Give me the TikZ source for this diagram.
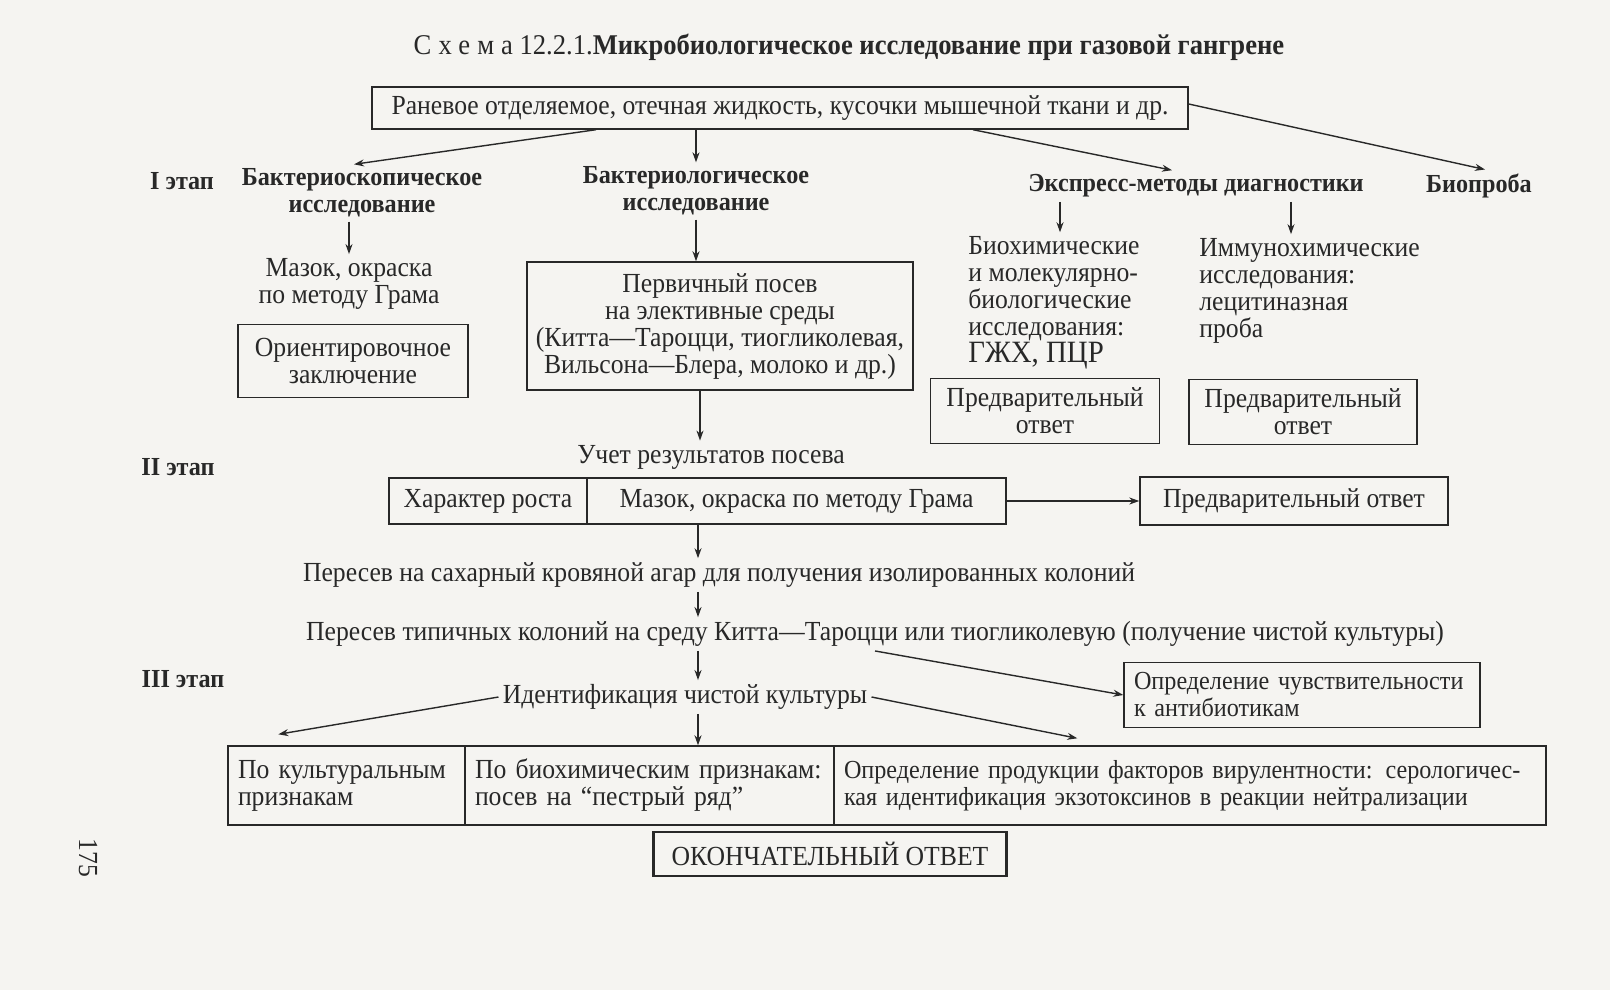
\documentclass[tikz,border=0pt]{standalone}
\usepackage{fontspec}
\setmainfont{Liberation Serif}[FakeStretch=0.93]
\usetikzlibrary{arrows.meta}
\definecolor{paper}{RGB}{245,244,241}
\definecolor{ink}{RGB}{40,40,40}

\begin{document}
\begin{tikzpicture}[
    x=0.5pt, y=-0.5pt,
    every node/.style={font=\fontsize{13.8}{13.5}\selectfont, text=ink, inner sep=2pt},
    box/.style={draw=ink, line width=0.7pt, align=center, inner sep=0pt},
    cell/.style={draw=ink, line width=0.7pt, align=left, inner xsep=5pt, inner ysep=0pt, minimum height=39.5pt},
    head/.style={font=\fontsize{13}{13.5}\selectfont\bfseries, align=center},
    stage/.style={font=\fontsize{13}{13.5}\selectfont\bfseries},
    arr/.style={draw=ink, line width=0.7pt, -{Stealth[length=5pt,width=3.5pt]}}
]
    % Лист
    \fill[paper] (0,0) rectangle (1610,990);
    \useasboundingbox (0,0) rectangle (1610,990);

    % Заголовок и материал
    \node[font=\fontsize{14.3}{16}\selectfont] (title) at (849,47) {{\addfontfeature{LetterSpace=25}Схема} 12.2.1.\textbf{Микробиологическое исследование при газовой гангрене}};
    \node[box, minimum width=408pt, minimum height=21pt] (src) at (780,108) {Раневое отделяемое, отечная жидкость, кусочки мышечной ткани и др.};

    % I этап
    \node[stage] (st1) at (182,181) {I этап};
    \node[head] (bskop) at (362,193) {Бактериоскопическое\\исследование};
    \node[head] (bol) at (696,191) {Бактериологическое\\исследование};
    \node[head] (expr) at (1196,186) {Экспресс-методы диагностики};
    \node[head] (biop) at (1479,186) {Биопроба};

    \draw[arr] ([xshift=-92pt]src.south) -- ([xshift=-4pt]bskop.north);
    \draw[arr] (src.south -| bol.north) -- (bol.north);
    \draw[arr] ([xshift=96.5pt]src.south) -- ([xshift=-12pt]expr.north);
    \draw[arr] ([yshift=2pt]src.east) -- ([xshift=3pt]biop.north);

    \node[align=center] (mazok) at (349,284) {Мазок, окраска\\по методу Грама};
    \node[box, minimum width=115pt, minimum height=36.5pt] (orient) at (353,361) {Ориентировочное\\заключение};
    \draw[arr] (bskop.south -| mazok.north) -- (mazok.north);

    \node[box, minimum width=193pt, minimum height=64pt] (perv) at (720,326) {Первичный посев\\на элективные среды\\(Китта—Тароцци, тиогликолевая,\\Вильсона—Блера, молоко и др.)};
    \draw[arr] (bol.south) -- (bol.south |- perv.north);

    \node[align=left, anchor=west] (bhim) at (964,303) {Биохимические\\и молекулярно-\\биологические\\исследования:\\{\fontsize{15.5}{16}\selectfont ГЖХ, ПЦР}};
    \node[align=left, anchor=west] (imm) at (1195,291) {Иммунохимические\\исследования:\\лецитиназная\\проба};
    \coordinate (e1) at ([xshift=-68pt]expr.south);
    \coordinate (e2) at ([xshift=47.5pt]expr.south);
    \draw[arr] (e1) -- (e1 |- bhim.north);
    \draw[arr] (e2) -- (e2 |- imm.north);

    \node[box, minimum width=114.5pt, minimum height=32.5pt] (pr1) at (1045,411) {Предварительный\\ответ};
    \node[box, minimum width=114pt, minimum height=32.5pt] (pr2) at (1303,412) {Предварительный\\ответ};

    % II этап
    \coordinate (p1) at ([xshift=-10pt]perv.south);
    \node (ucet) at (711,457) {Учет результатов посева};
    \draw[arr] (p1) -- (p1 |- ucet.north);

    \node[stage] (st2) at (178,467) {II этап};
    \node[box, minimum width=99pt, minimum height=23pt] (kh) at (488,501) {Характер роста};
    \node[box, minimum width=209.5pt, minimum height=23pt] (mz) at (796.5,501) {Мазок, окраска по методу Грама};
    \node[box, minimum width=154pt, minimum height=24pt] (pr3) at (1294,501) {Предварительный ответ};
    \draw[arr] (mz.east) -- (pr3.west);

    \coordinate (spine) at (698,0);
    \node (per1) at (719,575) {Пересев на сахарный кровяной агар для получения изолированных колоний};
    \node (per2) at (875,634) {Пересев типичных колоний на среду Китта—Тароцци или тиогликолевую (получение чистой культуры)};
    \draw[arr] (mz.south -| spine) -- (per1.north -| spine);
    \draw[arr] (per1.south -| spine) -- (per2.north -| spine);

    % III этап
    \node[stage] (st3) at (183,679) {III этап};
    \node (ident) at (685,697) {Идентификация чистой культуры};
    \node[box, align=left, inner xsep=5pt, text width=168pt, minimum height=32.5pt, font=\fontsize{13}{13.5}\selectfont] (sens) at (1302,695) {Определение чувствительности\\к антибиотикам};
    \draw[arr] (per2.south) -- (sens.west);
    \draw[arr] (per2.south -| spine) -- (ident.north -| spine);

    \node[cell, text width=108.5pt] (cult) at (346.5,785.5) {По культуральным\\признакам};
    \node[cell, text width=174.5pt] (bioch) at (649.5,785.5) {По биохимическим признакам:\\посев на “пестрый ряд”};
    \node[cell, text width=346pt, font=\fontsize{13}{13.5}\selectfont] (vir) at (1190,785.5) {Определение продукции факторов вирулентности: серологичес-\\кая идентификация экзотоксинов в реакции нейтрализации};

    \draw[arr] (ident.west) -- ([shift={(25.5pt,5.5pt)}]cult.north west);
    \draw[arr] (ident.east) -- ([shift={(122pt,3.5pt)}]vir.north west);
    \draw[arr] (ident.south -| spine) -- (bioch.north -| spine);

    \node[box, line width=1.4pt, minimum width=176.5pt, minimum height=22pt] (fin) at (830,854) {ОКОНЧАТЕЛЬНЫЙ ОТВЕТ};

    \node[rotate=-90] (page) at (88,858) {175};
\end{tikzpicture}
\end{document}
